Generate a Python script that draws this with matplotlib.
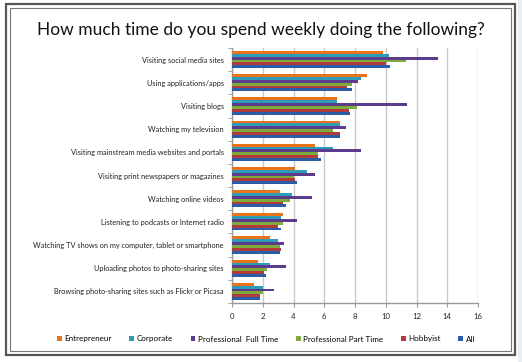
import numpy as np
import matplotlib
matplotlib.use("Agg")
import matplotlib.pyplot as plt
from matplotlib.patches import Rectangle

plt.rcParams['font.family'] = ['Lato', 'DejaVu Sans']

categories = [
    "Visiting social media sites",
    "Using applications/apps",
    "Visiting blogs",
    "Watching my television",
    "Visiting mainstream media websites and portals",
    "Visiting print newspapers or magazines",
    "Watching online videos",
    "Listening to podcasts or Internet radio",
    "Watching TV shows on my computer, tablet or smartphone",
    "Uploading photos to photo-sharing sites",
    "Browsing photo-sharing sites such as Flickr or Picasa",
]
series_names = ["Entrepreneur", "Corporate", "Professional  Full Time",
                "Professional Part Time", "Hobbyist", "All"]
colors = ["#E8731A", "#2E9BB8", "#5B3C8C", "#7EAA3A", "#B23A3A", "#2A5DA8"]

entrepreneur = [9.8, 8.8, 6.8, 7.0, 5.4, 4.1, 3.1, 3.3, 2.5, 1.7, 1.4]
corporate    = [10.2, 8.4, 6.8, 7.0, 6.6, 4.9, 3.9, 3.2, 3.0, 2.5, 2.0]
prof_full    = [13.4, 8.2, 11.4, 7.4, 8.4, 5.4, 5.2, 4.2, 3.4, 3.5, 2.7]
prof_part    = [11.3, 7.8, 8.1, 6.6, 5.6, 4.0, 3.8, 3.3, 3.1, 2.3, 2.0]
hobbyist     = [10.0, 7.5, 7.6, 7.0, 5.6, 4.1, 3.3, 3.0, 3.2, 2.1, 1.8]
all_resp     = [10.3, 7.8, 7.7, 7.0, 5.8, 4.2, 3.5, 3.2, 3.1, 2.2, 1.8]
series = [entrepreneur, corporate, prof_full, prof_part, hobbyist, all_resp]

fig = plt.figure(figsize=(5.22, 3.62), dpi=100)
fig.patch.set_facecolor("white")

# light strip on the right edge of the screenshot
fig.patches.append(Rectangle((518/522, 0), 4/522, 1, transform=fig.transFigure,
                             facecolor="#e9eef5", edgecolor="none"))
# double frame around the chart
fig.patches.append(Rectangle((6/522, 1-355/362), 509/522, 351/362, transform=fig.transFigure,
                             fill=False, edgecolor="#555555", lw=1.6))
fig.patches.append(Rectangle((9.5/522, 1-351/362), 501/522, 343.5/362, transform=fig.transFigure,
                             fill=False, edgecolor="#777777", lw=0.8))

ax = fig.add_axes([232/522, 1-303/362, 246/522, 255/362])

n = len(series)
bar_h = 0.74 / n
y_base = np.arange(len(categories))
for i, (vals, name, col) in enumerate(zip(series, series_names, colors)):
    y = y_base - 0.37 + bar_h * (i + 0.5)
    ax.barh(y, vals, height=bar_h, color=col, label=name, zorder=3)

ax.set_ylim(len(categories) - 0.5, -0.5)
ax.set_xlim(0, 16)
ax.set_xticks(range(0, 17, 2))
ax.set_yticks(y_base)
ax.set_yticklabels(categories, fontsize=5.3, color="#222222")
ax.set_yticks(np.arange(-0.5, len(categories), 1), minor=True)
ax.tick_params(axis='y', which='major', length=0, pad=6)
ax.tick_params(axis='y', which='minor', length=3, color="#999999")
ax.tick_params(axis='x', labelsize=5.6, length=3, color="#999999", labelcolor="#222222", pad=4)
ax.grid(axis='x', color="#c8c8c8", lw=1.0, zorder=0)
for s in ["top", "right"]:
    ax.spines[s].set_visible(False)
for s in ["left", "bottom"]:
    ax.spines[s].set_color("#999999")
    ax.spines[s].set_linewidth(1.0)

fig.text(0.5, 1-30/362, "How much time do you spend weekly doing the following?",
         ha="center", va="center", fontsize=12.5, color="#111111")

handles, labels = ax.get_legend_handles_labels()
fig.legend(handles, labels, loc="center", bbox_to_anchor=(266/522, 1-339/362), ncol=6,
           frameon=False, fontsize=5.8, handlelength=0.6, handleheight=0.6,
           handletextpad=0.3, columnspacing=2.2)

fig.savefig("out.png", dpi=100, facecolor="white")
